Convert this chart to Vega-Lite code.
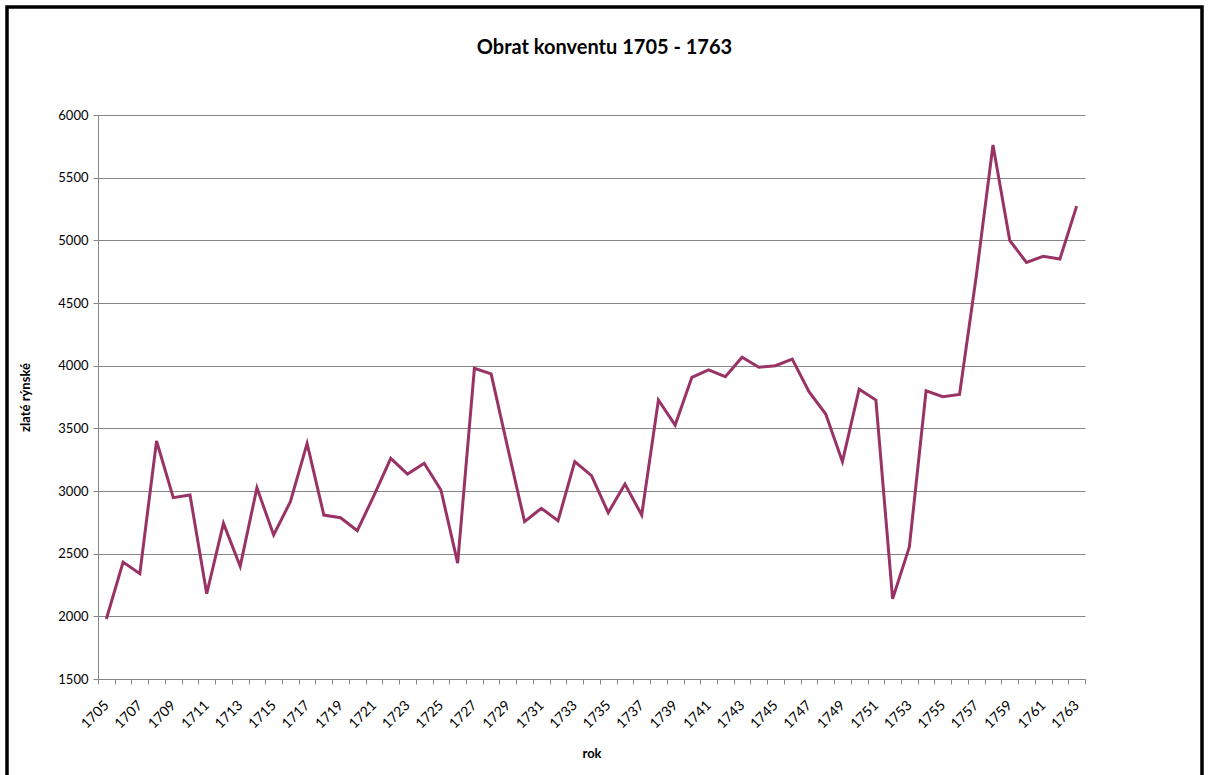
{
  "$schema": "https://vega.github.io/schema/vega-lite/v6.json",
  "autosize": {"type": "none"},
  "padding": {"left": 7, "top": 7, "right": 8, "bottom": 0},
  "width": 1195,
  "height": 775,
  "background": "white",
  "config": {
    "font": "Lato",
    "view": {"stroke": "black", "strokeWidth": 3.5},
    "axis": {"labelFont": "Lato", "titleFont": "Lato", "labelColor": "black", "titleColor": "black"}
  },
  "title": {
    "text": "Obrat konventu 1705 - 1763",
    "font": "Lato",
    "fontSize": 20,
    "fontWeight": "bold",
    "color": "black",
    "anchor": "middle",
    "baseline": "alphabetic",
    "offset": -67
  },
  "data": {
    "values": [
      {"rok": 1705, "hodnota": 1979}, {"rok": 1706, "hodnota": 2433}, {"rok": 1707, "hodnota": 2340},
      {"rok": 1708, "hodnota": 3399}, {"rok": 1709, "hodnota": 2947}, {"rok": 1710, "hodnota": 2968},
      {"rok": 1711, "hodnota": 2181}, {"rok": 1712, "hodnota": 2742}, {"rok": 1713, "hodnota": 2399},
      {"rok": 1714, "hodnota": 3026}, {"rok": 1715, "hodnota": 2649}, {"rok": 1716, "hodnota": 2915},
      {"rok": 1717, "hodnota": 3380}, {"rok": 1718, "hodnota": 2808}, {"rok": 1719, "hodnota": 2787},
      {"rok": 1720, "hodnota": 2684}, {"rok": 1721, "hodnota": 2965}, {"rok": 1722, "hodnota": 3261},
      {"rok": 1723, "hodnota": 3135}, {"rok": 1724, "hodnota": 3221}, {"rok": 1725, "hodnota": 3008},
      {"rok": 1726, "hodnota": 2425}, {"rok": 1727, "hodnota": 3979}, {"rok": 1728, "hodnota": 3934},
      {"rok": 1729, "hodnota": 3340}, {"rok": 1730, "hodnota": 2755}, {"rok": 1731, "hodnota": 2862},
      {"rok": 1732, "hodnota": 2763}, {"rok": 1733, "hodnota": 3234}, {"rok": 1734, "hodnota": 3122},
      {"rok": 1735, "hodnota": 2827}, {"rok": 1736, "hodnota": 3056}, {"rok": 1737, "hodnota": 2808},
      {"rok": 1738, "hodnota": 3726}, {"rok": 1739, "hodnota": 3526}, {"rok": 1740, "hodnota": 3907},
      {"rok": 1741, "hodnota": 3966}, {"rok": 1742, "hodnota": 3912}, {"rok": 1743, "hodnota": 4067},
      {"rok": 1744, "hodnota": 3987}, {"rok": 1745, "hodnota": 4000}, {"rok": 1746, "hodnota": 4053},
      {"rok": 1747, "hodnota": 3793}, {"rok": 1748, "hodnota": 3614}, {"rok": 1749, "hodnota": 3234},
      {"rok": 1750, "hodnota": 3812}, {"rok": 1751, "hodnota": 3726}, {"rok": 1752, "hodnota": 2139},
      {"rok": 1753, "hodnota": 2553}, {"rok": 1754, "hodnota": 3800}, {"rok": 1755, "hodnota": 3752},
      {"rok": 1756, "hodnota": 3771}, {"rok": 1757, "hodnota": 4713}, {"rok": 1758, "hodnota": 5761},
      {"rok": 1759, "hodnota": 5000}, {"rok": 1760, "hodnota": 4824}, {"rok": 1761, "hodnota": 4872},
      {"rok": 1762, "hodnota": 4851}, {"rok": 1763, "hodnota": 5273}
    ]
  },
  "mark": {"type": "line", "color": "#993366", "strokeWidth": 3, "strokeJoin": "miter"},
  "encoding": {
    "x": {
      "field": "rok",
      "type": "ordinal",
      "bandPosition": 0.5,
      "scale": {"type": "band", "range": [91, 1078], "paddingInner": 0, "paddingOuter": 0},
      "axis": {
        "title": "rok",
        "titleFontSize": 13,
        "titleFontWeight": "bold",
        "titlePadding": 17,
        "offset": -103,
        "labelAngle": -45,
        "labelAlign": "right",
        "labelBaseline": "middle",
        "labelFontSize": 14,
        "labelPadding": 19,
        "labelOverlap": false,
        "labelExpr": "(datum.value - 1705) % 2 == 0 ? datum.label : ''",
        "tickBand": "extent",
        "tickSize": 5,
        "tickColor": "#868686",
        "domainColor": "#868686",
        "grid": false
      }
    },
    "y": {
      "field": "hodnota",
      "type": "quantitative",
      "scale": {"domain": [1500, 6000], "range": [672, 108], "nice": false, "zero": false},
      "axis": {
        "title": "zlaté rýnské",
        "titleFontSize": 13,
        "titleFontWeight": "bold",
        "titlePadding": 25,
        "offset": -91,
        "format": "d",
        "values": [1500, 2000, 2500, 3000, 3500, 4000, 4500, 5000, 5500, 6000],
        "labelFontSize": 13,
        "labelPadding": 5,
        "tickSize": 5,
        "tickColor": "#868686",
        "domainColor": "#868686",
        "grid": true,
        "gridColor": "#868686",
        "gridWidth": 1
      }
    }
  }
}
